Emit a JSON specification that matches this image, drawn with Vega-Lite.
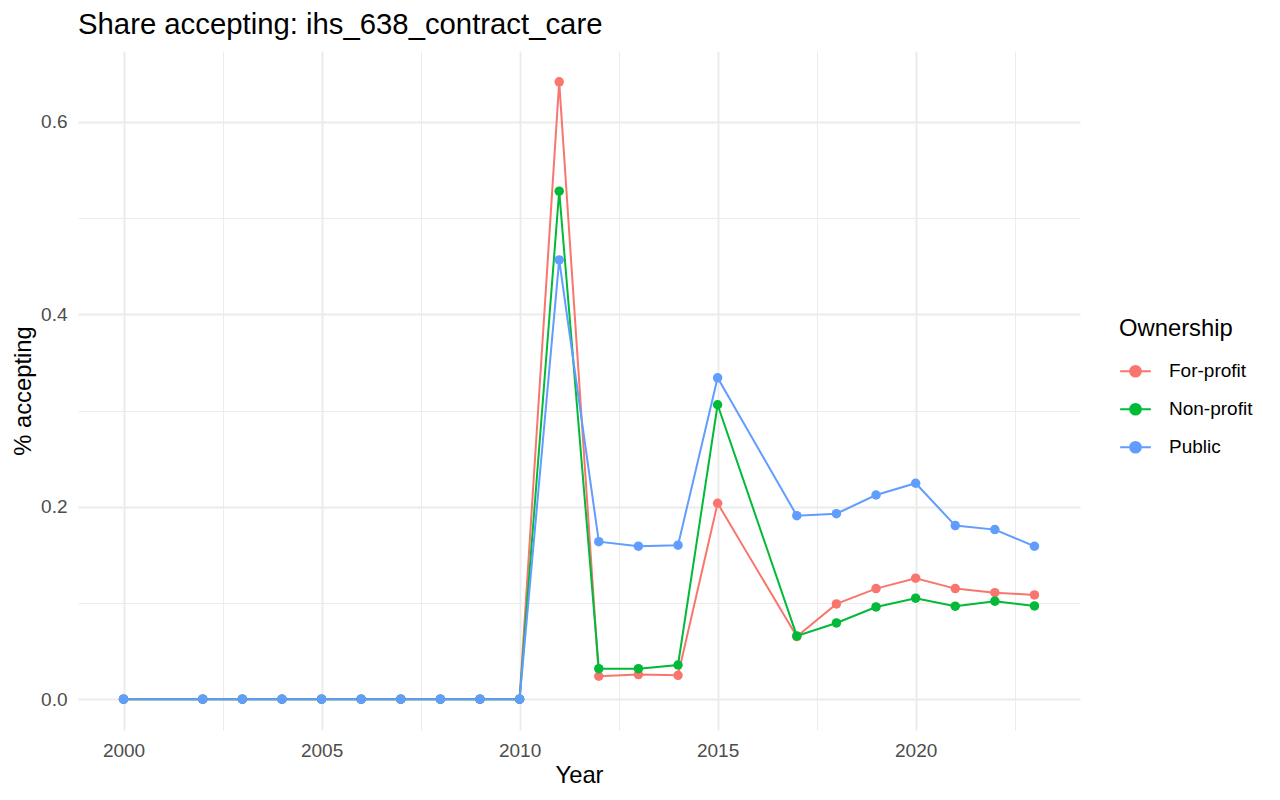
{
  "$schema": "https://vega.github.io/schema/vega-lite/v6.json",
  "autosize": "none",
  "width": 1002,
  "height": 679,
  "padding": {"left": 78, "top": 51, "right": 200, "bottom": 70},
  "background": "white",
  "title": {
    "text": "Share accepting: ihs_638_contract_care",
    "anchor": "start",
    "frame": "group",
    "font": "Liberation Sans",
    "fontSize": 29.3,
    "fontWeight": "normal",
    "color": "black",
    "offset": 11
  },
  "data": {
    "values": [
      {"Year": 2000, "Ownership": "For-profit", "share": 0},
      {"Year": 2002, "Ownership": "For-profit", "share": 0},
      {"Year": 2003, "Ownership": "For-profit", "share": 0},
      {"Year": 2004, "Ownership": "For-profit", "share": 0},
      {"Year": 2005, "Ownership": "For-profit", "share": 0},
      {"Year": 2006, "Ownership": "For-profit", "share": 0},
      {"Year": 2007, "Ownership": "For-profit", "share": 0},
      {"Year": 2008, "Ownership": "For-profit", "share": 0},
      {"Year": 2009, "Ownership": "For-profit", "share": 0},
      {"Year": 2010, "Ownership": "For-profit", "share": 0},
      {"Year": 2011, "Ownership": "For-profit", "share": 0.6416},
      {"Year": 2012, "Ownership": "For-profit", "share": 0.0238},
      {"Year": 2013, "Ownership": "For-profit", "share": 0.0255},
      {"Year": 2014, "Ownership": "For-profit", "share": 0.0248},
      {"Year": 2015, "Ownership": "For-profit", "share": 0.2036},
      {"Year": 2017, "Ownership": "For-profit", "share": 0.065},
      {"Year": 2018, "Ownership": "For-profit", "share": 0.099},
      {"Year": 2019, "Ownership": "For-profit", "share": 0.1149},
      {"Year": 2020, "Ownership": "For-profit", "share": 0.1257},
      {"Year": 2021, "Ownership": "For-profit", "share": 0.1149},
      {"Year": 2022, "Ownership": "For-profit", "share": 0.1107},
      {"Year": 2023, "Ownership": "For-profit", "share": 0.1083},
      {"Year": 2000, "Ownership": "Non-profit", "share": 0},
      {"Year": 2002, "Ownership": "Non-profit", "share": 0},
      {"Year": 2003, "Ownership": "Non-profit", "share": 0},
      {"Year": 2004, "Ownership": "Non-profit", "share": 0},
      {"Year": 2005, "Ownership": "Non-profit", "share": 0},
      {"Year": 2006, "Ownership": "Non-profit", "share": 0},
      {"Year": 2007, "Ownership": "Non-profit", "share": 0},
      {"Year": 2008, "Ownership": "Non-profit", "share": 0},
      {"Year": 2009, "Ownership": "Non-profit", "share": 0},
      {"Year": 2010, "Ownership": "Non-profit", "share": 0},
      {"Year": 2011, "Ownership": "Non-profit", "share": 0.528},
      {"Year": 2012, "Ownership": "Non-profit", "share": 0.0317},
      {"Year": 2013, "Ownership": "Non-profit", "share": 0.0317},
      {"Year": 2014, "Ownership": "Non-profit", "share": 0.0355},
      {"Year": 2015, "Ownership": "Non-profit", "share": 0.306},
      {"Year": 2017, "Ownership": "Non-profit", "share": 0.0657},
      {"Year": 2018, "Ownership": "Non-profit", "share": 0.0792},
      {"Year": 2019, "Ownership": "Non-profit", "share": 0.0958},
      {"Year": 2020, "Ownership": "Non-profit", "share": 0.1049},
      {"Year": 2021, "Ownership": "Non-profit", "share": 0.0966},
      {"Year": 2022, "Ownership": "Non-profit", "share": 0.1018},
      {"Year": 2023, "Ownership": "Non-profit", "share": 0.0969},
      {"Year": 2000, "Ownership": "Public", "share": 0},
      {"Year": 2002, "Ownership": "Public", "share": 0},
      {"Year": 2003, "Ownership": "Public", "share": 0},
      {"Year": 2004, "Ownership": "Public", "share": 0},
      {"Year": 2005, "Ownership": "Public", "share": 0},
      {"Year": 2006, "Ownership": "Public", "share": 0},
      {"Year": 2007, "Ownership": "Public", "share": 0},
      {"Year": 2008, "Ownership": "Public", "share": 0},
      {"Year": 2009, "Ownership": "Public", "share": 0},
      {"Year": 2010, "Ownership": "Public", "share": 0},
      {"Year": 2011, "Ownership": "Public", "share": 0.4565},
      {"Year": 2012, "Ownership": "Public", "share": 0.1637},
      {"Year": 2013, "Ownership": "Public", "share": 0.159},
      {"Year": 2014, "Ownership": "Public", "share": 0.16},
      {"Year": 2015, "Ownership": "Public", "share": 0.334},
      {"Year": 2017, "Ownership": "Public", "share": 0.1907},
      {"Year": 2018, "Ownership": "Public", "share": 0.1928},
      {"Year": 2019, "Ownership": "Public", "share": 0.2122},
      {"Year": 2020, "Ownership": "Public", "share": 0.2244},
      {"Year": 2021, "Ownership": "Public", "share": 0.1804},
      {"Year": 2022, "Ownership": "Public", "share": 0.1762},
      {"Year": 2023, "Ownership": "Public", "share": 0.1589}
    ]
  },
  "encoding": {
    "x": {
      "field": "Year",
      "type": "quantitative",
      "title": "Year",
      "scale": {"domain": [1998.85, 2024.15], "nice": false, "zero": false},
      "axis": {
        "values": [2000, 2002.5, 2005, 2007.5, 2010, 2012.5, 2015, 2017.5, 2020, 2022.5],
        "labelExpr": "datum.value % 5 === 0 ? format(datum.value, 'd') : ''",
        "gridWidth": {"condition": {"test": "datum.value % 5 === 0", "value": 1.9}, "value": 0.95},
        "labelPadding": 11,
        "titlePadding": 3
      }
    },
    "y": {
      "field": "share",
      "type": "quantitative",
      "title": "% accepting",
      "scale": {"domain": [-0.03208, 0.67368], "nice": false, "zero": false},
      "axis": {
        "values": [0, 0.1, 0.2, 0.3, 0.4, 0.5, 0.6],
        "labelExpr": "round(datum.value * 10) % 2 === 0 ? format(datum.value, '.1f') : ''",
        "gridWidth": {"condition": {"test": "round(datum.value * 10) % 2 === 0", "value": 1.9}, "value": 0.95},
        "labelPadding": 11,
        "titlePadding": 5
      }
    },
    "color": {
      "field": "Ownership",
      "type": "nominal",
      "title": "Ownership",
      "scale": {
        "domain": ["For-profit", "Non-profit", "Public"],
        "range": ["#F8766D", "#00BA38", "#619CFF"]
      },
      "legend": {
        "orient": "none",
        "legendX": 1041,
        "legendY": 266,
        "padding": 0,
        "symbolType": "M-1,0H1M0.35,0A0.35,0.35,0,1,1,-0.35,0A0.35,0.35,0,1,1,0.35,0Z",
        "symbolSize": 942,
        "symbolStrokeWidth": 1.9,
        "labelOffset": 17,
        "rowPadding": 11,
        "titlePadding": 14,
        "encode": {
          "symbols": {
            "update": {
              "fill": {"scale": "color", "field": "value"},
              "stroke": {"scale": "color", "field": "value"},
              "fillOpacity": {"value": 1}
            }
          }
        }
      }
    }
  },
  "layer": [
    {"mark": {"type": "line", "strokeWidth": 2}},
    {"mark": {"type": "point", "filled": true, "size": 90, "opacity": 1}}
  ],
  "config": {
    "font": "Liberation Sans",
    "view": {"stroke": null},
    "axis": {
      "domain": false,
      "ticks": false,
      "grid": true,
      "gridColor": "#EBEBEB",
      "labelFont": "Liberation Sans",
      "labelFontSize": 19,
      "labelColor": "#4D4D4D",
      "titleFont": "Liberation Sans",
      "titleFontSize": 23.8,
      "titleFontWeight": "normal",
      "titleColor": "black"
    },
    "axisY": {"labelBaseline": "middle"},
    "legend": {
      "titleFont": "Liberation Sans",
      "titleFontSize": 23.8,
      "titleFontWeight": "normal",
      "titleColor": "black",
      "labelFont": "Liberation Sans",
      "labelFontSize": 19,
      "labelColor": "black"
    }
  }
}
